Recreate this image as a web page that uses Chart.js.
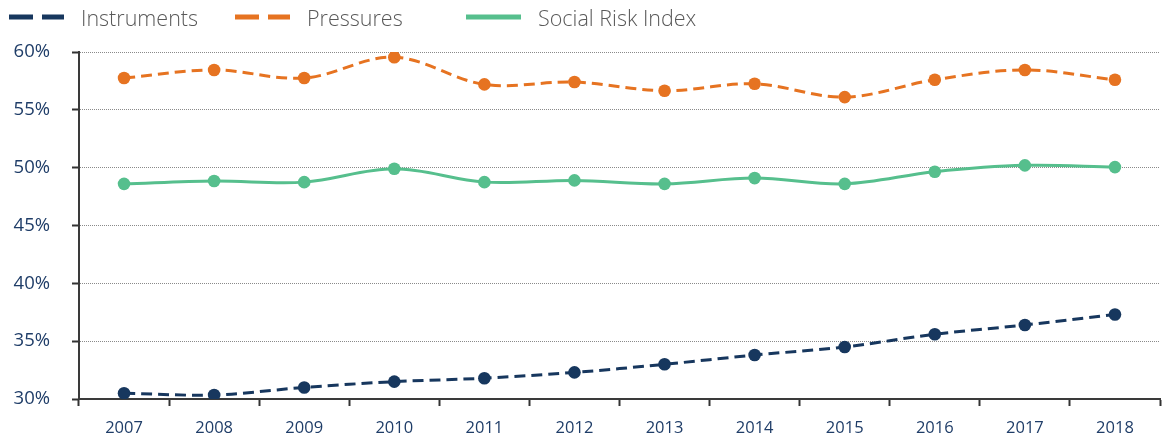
<!DOCTYPE html>
<html><head><meta charset="utf-8">
<script src="https://cdn.jsdelivr.net/npm/chart.js@4/dist/chart.umd.min.js"></script>
<style>
html,body{margin:0;padding:0;background:#fff;}
#wrap{position:relative;width:1170px;height:440px;}
#legend{position:absolute;left:0;top:0;width:1170px;height:34px;font-family:'Open Sans',sans-serif;font-weight:300;font-size:21.5px;color:#595959;}
.item{position:absolute;top:0;height:34px;display:flex;align-items:center;white-space:nowrap;}
.item svg{margin-right:17px;display:block;}
</style></head><body>
<div id="wrap"><canvas id="c" width="1170" height="440"></canvas><div id="legend"></div></div>
<script>
const years = ['2007','2008','2009','2010','2011','2012','2013','2014','2015','2016','2017','2018'];
const instruments = [30.5, 30.35, 31.0, 31.5, 31.8, 32.3, 33.0, 33.8, 34.5, 35.6, 36.4, 37.3];
const pressures = [57.75, 58.45, 57.75, 59.55, 57.2, 57.4, 56.65, 57.25, 56.1, 57.6, 58.45, 57.6];
const socialRisk = [48.6, 48.85, 48.75, 49.9, 48.75, 48.9, 48.6, 49.1, 48.6, 49.65, 50.2, 50.05];
const seriesNames = ['Instruments', 'Pressures', 'Social Risk Index'];
const yTickValues = [30, 35, 40, 45, 50, 55, 60];

const colors = ['#17375e', '#e67321', '#56bf8d'];
const dashes = [[11, 6], [11, 6], []];
const legendDash = ['24 9', '24 9', ''];
const legendX = [9, 235, 466];

const datasets = [instruments, pressures, socialRisk].map((d, i) => ({
  label: seriesNames[i],
  data: d,
  borderColor: colors[i],
  backgroundColor: colors[i],
  borderWidth: 3,
  borderDash: dashes[i],
  pointRadius: 6.3,
  pointBorderWidth: 0,
  pointBackgroundColor: colors[i],
  tension: 0.35,
  fill: false
}));

// HTML legend
const leg = document.getElementById('legend');
datasets.forEach((ds, i) => {
  const it = document.createElement('div');
  it.className = 'item';
  it.style.left = legendX[i] + 'px';
  it.innerHTML = '<svg width="55" height="10"><line x1="0" y1="5" x2="55" y2="5" stroke="' + colors[i] +
    '" stroke-width="5"' + (legendDash[i] ? ' stroke-dasharray="' + legendDash[i] + '"' : '') + '/></svg>';
  const sp = document.createElement('span');
  sp.textContent = ds.label;
  it.appendChild(sp);
  leg.appendChild(it);
});

const tickColor = '#1f3d68';
new Chart(document.getElementById('c'), {
  type: 'line',
  data: { labels: years, datasets },
  options: {
    responsive: false,
    animation: false,
    layout: { padding: { left: 0, right: 10, top: 52, bottom: 0 } },
    plugins: { legend: { display: false }, tooltip: { enabled: false } },
    scales: {
      x: {
        offset: true,
        grid: { display: true, drawOnChartArea: false, offset: true, tickLength: 7, tickColor: '#333', tickWidth: 2 },
        border: { color: '#3a3a3a', width: 2 },
        ticks: { color: tickColor, font: { family: 'Open Sans', size: 16.5 }, padding: 12, maxRotation: 0 },
        afterFit: s => { s.height = 41; }
      },
      y: {
        min: 30, max: 60,
        afterBuildTicks: s => { s.ticks = yTickValues.map(v => ({ value: v })); },
        grid: { color: '#8a8a8a', lineWidth: 1, tickLength: 7, tickColor: '#333', tickWidth: 2, tickBorderDash: [] },
        border: { color: '#3a3a3a', width: 2, dash: [1, 1] },
        ticks: { color: tickColor, font: { family: 'Open Sans', size: 18.5 }, padding: 22, callback: v => v + '%' },
        afterFit: s => { s.width = 79; }
      }
    }
  }
});
</script>
</body></html>
